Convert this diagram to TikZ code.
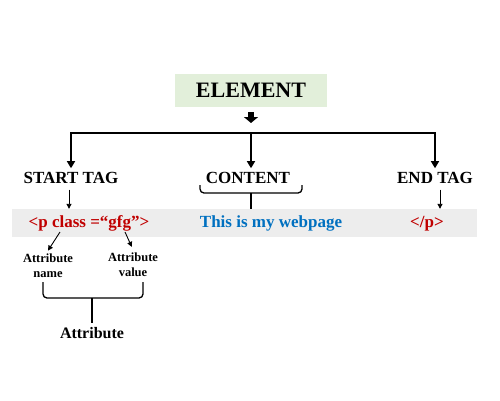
\documentclass[tikz,border=0pt]{standalone}
\usepackage{fontspec}
\setmainfont{Liberation Serif}
\usetikzlibrary{arrows.meta}
\definecolor{tag-red}{HTML}{C00000}
\definecolor{text-blue}{HTML}{0070C0}
\definecolor{elem-green}{HTML}{E2EFDA}
\definecolor{band-grey}{HTML}{EDEDED}
\tikzset{
  elem-box/.style={fill=elem-green, minimum width=152pt, minimum height=33pt,
    font=\bfseries\fontsize{22}{26}\selectfont},
  tag-label/.style={anchor=base, font=\bfseries\fontsize{17}{20}\selectfont},
  code-text/.style={anchor=base, font=\bfseries\fontsize{17}{20}\selectfont},
  attr-label/.style={align=center, font=\bfseries\fontsize{12.5}{15}\selectfont},
  block-path/.style={line width=6pt, -{Triangle[length=6pt,width=14pt]}},
  tree-path/.style={line width=1.5pt, -{Triangle[length=7pt,width=8pt]}},
  small-path/.style={line width=0.9pt, -{Triangle[length=5pt,width=5pt]}},
  brace-path/.style={line width=1.3pt, rounded corners=4pt},
}

\begin{document}
\begin{tikzpicture}[x=1pt, y=-1pt]
  \useasboundingbox (0,0) rectangle (500,400);

  \node[elem-box] (element) at (251, 90.5) {ELEMENT};
  \coordinate (fork) at (251, 133);
  \draw[block-path, shorten <=5pt, shorten >=10pt] (element.south) -- (fork);

  % tag labels
  \foreach \name/\x/\txt in {start/71/START TAG, content/248/CONTENT, end/435/END TAG} {
    \node[tag-label] (\name) at (\x, 183) {\txt};
  }
  \draw[tree-path] (fork) -| (start.north);
  \draw[tree-path] (fork) -- (fork |- content.north);
  \draw[tree-path] (fork) -| (end.north);

  % code band
  \node[fill=band-grey, minimum width=465pt, minimum height=28pt] (band) at (244.5, 223) {};
  \node[code-text, text=tag-red] (ptag) at (89, 227) {<p class =“gfg”>};
  \node[code-text, text=text-blue] (webpage) at (271, 227) {This is my webpage};
  \node[code-text, text=tag-red] (ctag) at (427, 227) {</p>};

  \coordinate (start-down) at ([xshift=-2pt]start.south);
  \coordinate (end-down) at ([xshift=5pt]end.south);
  \draw[small-path, shorten <=3pt] (start-down) -- (start-down |- band.north);
  \draw[small-path, shorten <=3pt] (end-down) -- (end-down |- band.north);

  % brace under content
  \draw[brace-path] (200, 185) -- (200, 193) -- (302, 193) -- (302, 185);
  \coordinate (content-brace) at (251, 193);
  \draw[brace-path] (content-brace) -- (content-brace |- band.north);

  % attribute parts
  \node[attr-label] (attr-name) at (48, 266) {Attribute\\name};
  \node[attr-label] (attr-value) at (133, 265) {Attribute\\value};
  \coordinate (name-from) at (60, 232);
  \coordinate (value-from) at (125, 232);
  \draw[small-path] (name-from) -- (attr-name.north);
  \draw[small-path, shorten >=3pt] (value-from) -- (attr-value.north);

  \draw[brace-path] (43, 282) -- (43, 298) -- (143, 298) -- (143, 282);
  \coordinate (attr-brace) at (92, 298);
  \node[anchor=base, font=\bfseries\fontsize{16}{19}\selectfont] (attribute) at (92, 338) {Attribute};
  \draw[brace-path] (attr-brace) -- (attribute.north);
\end{tikzpicture}
\end{document}
